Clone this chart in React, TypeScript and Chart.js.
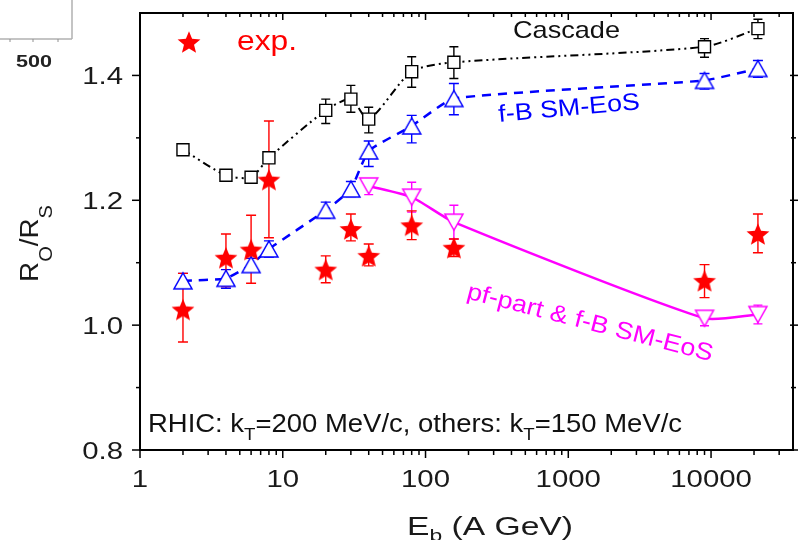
import React, { useEffect, useRef } from 'react';
import { Chart, registerables } from 'chart.js';

Chart.register(...registerables);

// ---------------- data ----------------
const energies = [2, 4, 6, 8, 20, 30, 40, 80, 158, 9000, 21300];

const expRatio = [1.025, 1.108, 1.121, 1.233, 1.089, 1.154, 1.111, 1.160, 1.124, 1.071, 1.146];
const expErrPlus = [0.058, 0.038, 0.055, 0.094, 0.022, 0.024, 0.019, 0.023, 0.014, 0.026, 0.032];
const expErrMinus = [0.052, 0.046, 0.054, 0.093, 0.021, 0.019, 0.016, 0.023, 0.014, 0.027, 0.030];

const cascadeRatio = [1.281, 1.240, 1.237, 1.268, 1.344, 1.362, 1.330, 1.406, 1.421, 1.446, 1.475];
const cascadeErrPlus = [0.005, 0.005, 0.005, 0.006, 0.018, 0.022, 0.019, 0.024, 0.025, 0.013, 0.015];
const cascadeErrMinus = [0.005, 0.005, 0.005, 0.006, 0.021, 0.021, 0.022, 0.025, 0.026, 0.017, 0.016];

const fbRatio = [1.071, 1.075, 1.097, 1.122, 1.184, 1.218, 1.279, 1.319, 1.363, 1.392, 1.411];
const fbErrPlus = [0.012, 0.014, 0.010, 0.013, 0.013, 0.012, 0.016, 0.017, 0.024, 0.011, 0.013];
const fbErrMinus = [0.010, 0.016, 0.010, 0.013, 0.013, 0.012, 0.025, 0.027, 0.026, 0.014, 0.014];

const pfEnergies = [40, 80, 158, 9000, 21300];
const pfRatio = [1.223, 1.205, 1.165, 1.011, 1.017];
const pfErrPlus = [0.010, 0.024, 0.027, 0.008, 0.015];
const pfErrMinus = [0.014, 0.024, 0.027, 0.012, 0.015];

const xTicks = [1, 10, 100, 1000, 10000];
const yTicks = [0.8, 1.0, 1.2, 1.4];
const yMinorTicks = [0.9, 1.1, 1.3];

const X_MIN = 1;
const X_MAX = 37500;
const Y_MIN = 0.8;
const Y_MAX = 1.5;

// ---------------- styling helpers ----------------
const FAM = "'Liberation Sans', Arial, Helvetica, sans-serif";
const RED = '#ff0000';
const BLUE = '#0000ff';
const MAGENTA = '#ff00ff';

type Seg = { t: string; size: number; dy?: number; bold?: boolean };

function drawRich(
  ctx: CanvasRenderingContext2D,
  segs: Seg[],
  o: { x: number; y: number; width?: number; sx?: number; color: string; angle?: number; align?: 'left' | 'center' | 'right'; base?: number }
) {
  ctx.save();
  let nat = 0;
  for (const s of segs) {
    ctx.font = `${s.bold ? 'bold ' : ''}${s.size}px ${FAM}`;
    nat += ctx.measureText(s.t).width;
  }
  const sx = o.width ? o.width / nat : o.sx ?? 1;
  ctx.translate(o.x, o.y);
  if (o.angle) ctx.rotate(o.angle);
  ctx.scale(sx, 1);
  let cx = o.align === 'center' ? -nat / 2 : o.align === 'right' ? -nat : 0;
  ctx.fillStyle = o.color;
  ctx.textAlign = 'left';
  ctx.textBaseline = 'alphabetic';
  for (const s of segs) {
    ctx.font = `${s.bold ? 'bold ' : ''}${s.size}px ${FAM}`;
    ctx.fillText(s.t, cx, (s.dy ?? 0) + (o.base ?? 0));
    cx += ctx.measureText(s.t).width;
  }
  ctx.restore();
}

function makeStar(color: string, R: number) {
  const c = document.createElement('canvas');
  const s = Math.ceil(R * 2 + 2);
  c.width = s;
  c.height = s;
  const g = c.getContext('2d')!;
  g.fillStyle = color;
  const cx = s / 2;
  const cy = s / 2 + R * 0.0955;
  g.beginPath();
  for (let i = 0; i < 10; i++) {
    const r = i % 2 ? R * 0.44 : R;
    const a = -Math.PI / 2 + (i * Math.PI) / 5;
    const px = cx + r * Math.cos(a);
    const py = cy + r * Math.sin(a);
    if (i === 0) g.moveTo(px, py);
    else g.lineTo(px, py);
  }
  g.closePath();
  g.fill();
  return c;
}

function makeTri(color: string, up: boolean) {
  const w = 18;
  const h = 16;
  const p = 2;
  const c = document.createElement('canvas');
  c.width = w + 2 * p;
  c.height = h + 2 * p;
  const g = c.getContext('2d')!;
  g.lineWidth = 1.5;
  g.strokeStyle = color;
  g.fillStyle = '#ffffff';
  g.beginPath();
  if (up) {
    g.moveTo(p + w / 2, p);
    g.lineTo(p + w, p + h);
    g.lineTo(p, p + h);
  } else {
    g.moveTo(p, p);
    g.lineTo(p + w, p);
    g.lineTo(p + w / 2, p + h);
  }
  g.closePath();
  g.fill();
  g.stroke();
  return c;
}

type ErrSeries = { xs: number[]; ys: number[]; plus: number[]; minus: number[]; color: string; cap: number; lw: number };

const errSeries: ErrSeries[] = [
  { xs: energies, ys: cascadeRatio, plus: cascadeErrPlus, minus: cascadeErrMinus, color: '#000000', cap: 4.5, lw: 1.4 },
  { xs: energies, ys: fbRatio, plus: fbErrPlus, minus: fbErrMinus, color: BLUE, cap: 5, lw: 1.4 },
  { xs: pfEnergies, ys: pfRatio, plus: pfErrPlus, minus: pfErrMinus, color: MAGENTA, cap: 4.5, lw: 1.4 },
  { xs: energies, ys: expRatio, plus: expErrPlus, minus: expErrMinus, color: RED, cap: 5, lw: 1.4 },
];

export default function App() {
  const ref = useRef<HTMLCanvasElement>(null);

  useEffect(() => {
    const canvas = ref.current!;
    const starImg = makeStar(RED, 12);
    const upBlue = makeTri(BLUE, true);
    const downMag = makeTri(MAGENTA, false);

    const deco = {
      id: 'deco',
      beforeDatasetsDraw(chart: any) {
        const ctx: CanvasRenderingContext2D = chart.ctx;
        const xs = chart.scales.x;
        const ys = chart.scales.y;
        ctx.save();
        for (const s of errSeries) {
          ctx.strokeStyle = s.color;
          ctx.lineWidth = s.lw;
          s.xs.forEach((xv, i) => {
            const px = xs.getPixelForValue(xv);
            const pTop = ys.getPixelForValue(s.ys[i] + s.plus[i]);
            const pBot = ys.getPixelForValue(s.ys[i] - s.minus[i]);
            ctx.beginPath();
            ctx.moveTo(px, pTop);
            ctx.lineTo(px, pBot);
            ctx.moveTo(px - s.cap, pTop);
            ctx.lineTo(px + s.cap, pTop);
            ctx.moveTo(px - s.cap, pBot);
            ctx.lineTo(px + s.cap, pBot);
            ctx.stroke();
          });
        }
        ctx.restore();
      },
      afterDraw(chart: any) {
        const ctx: CanvasRenderingContext2D = chart.ctx;
        const { left, right, top, bottom } = chart.chartArea;
        const xs = chart.scales.x;
        const ys = chart.scales.y;
        const line = (x1: number, y1: number, x2: number, y2: number) => {
          ctx.beginPath();
          ctx.moveTo(x1, y1);
          ctx.lineTo(x2, y2);
          ctx.stroke();
        };
        ctx.save();
        // frame
        ctx.strokeStyle = '#000';
        ctx.lineWidth = 2;
        ctx.strokeRect(left, top, right - left, bottom - top);
        // x ticks
        ctx.lineWidth = 1.5;
        for (const d of xTicks) {
          const px = xs.getPixelForValue(d);
          line(px, bottom, px, bottom + 8);
          line(px, top, px, top + 7);
          for (let m = 2; m <= 9; m++) {
            const v = d * m;
            if (v > X_MAX) break;
            const p = xs.getPixelForValue(v);
            line(p, bottom, p, bottom + 5);
            line(p, top, p, top + 4);
          }
        }
        // y ticks
        for (const v of yTicks) {
          const py = ys.getPixelForValue(v);
          line(left - 8, py, left, py);
          line(right - 3, py, right + 5, py);
        }
        for (const v of yMinorTicks) {
          const py = ys.getPixelForValue(v);
          line(left - 4, py, left, py);
          line(right - 2, py, right + 3, py);
        }
        // tick labels
        for (const d of xTicks) {
          const px = xs.getPixelForValue(d);
          drawRich(ctx, [{ t: String(d), size: 23.5 }], { x: px, y: 487, sx: 1.25, color: '#1a1a1a', align: 'center' });
        }
        for (const v of yTicks) {
          const py = ys.getPixelForValue(v);
          drawRich(ctx, [{ t: v.toFixed(1), size: 23.5 }], { x: 123, y: py + 8.5, sx: 1.25, color: '#1a1a1a', align: 'right' });
        }
        // axis titles
        drawRich(
          ctx,
          [
            { t: 'E', size: 25 },
            { t: 'b', size: 17, dy: 6 },
            { t: ' (A GeV)', size: 25 },
          ],
          { x: 407, y: 535, width: 166, color: '#1a1a1a' }
        );
        drawRich(
          ctx,
          [
            { t: 'R', size: 25 },
            { t: 'O', size: 18, dy: 14 },
            { t: '/R', size: 25 },
            { t: 'S', size: 18, dy: 14 },
          ],
          { x: 38, y: 243.5, width: 77, color: '#1a1a1a', angle: -Math.PI / 2, align: 'center' }
        );
        // note
        drawRich(
          ctx,
          [
            { t: 'RHIC: k', size: 25 },
            { t: 'T', size: 17, dy: 8 },
            { t: '=200 MeV/c, others: k', size: 25 },
            { t: 'T', size: 17, dy: 8 },
            { t: '=150 MeV/c', size: 25 },
          ],
          { x: 148, y: 432, width: 534, color: '#111' }
        );
        // curve labels
        drawRich(ctx, [{ t: 'Cascade', size: 24 }], { x: 513, y: 38, width: 107, color: '#111' });
        drawRich(ctx, [{ t: 'f-B SM-EoS', size: 24 }], {
          x: 569, y: 107, width: 142, color: BLUE, angle: (-5.2 * Math.PI) / 180, align: 'center', base: 8.5,
        });
        drawRich(ctx, [{ t: 'pf-part & f-B SM-EoS', size: 24 }], {
          x: 590.5, y: 321.5, width: 253, color: MAGENTA, angle: (14.4 * Math.PI) / 180, align: 'center', base: 8.5,
        });
        // legend
        ctx.drawImage(starImg, 189 - starImg.width / 2, 42 - starImg.height / 2);
        drawRich(ctx, [{ t: 'exp.', size: 27 }], { x: 237, y: 50, width: 60, color: RED });
        // fragment of a neighbouring figure (top-left corner)
        ctx.strokeStyle = '#b0b0b0';
        ctx.lineWidth = 1.5;
        line(72, 0, 72, 39);
        line(0, 39, 72, 39);
        ctx.strokeStyle = '#909090';
        ctx.lineWidth = 1;
        for (const tx of [10, 33, 58]) line(tx, 39, tx, 42);
        drawRich(ctx, [{ t: '500', size: 17, bold: true }], { x: 16, y: 67, width: 36, color: '#222' });
        ctx.restore();
      },
    };

    const chart = new Chart(canvas, {
      type: 'line',
      data: {
        datasets: [
          {
            label: 'exp.',
            data: energies.map((x, i) => ({ x, y: expRatio[i] })),
            showLine: false,
            pointStyle: starImg as any,
            pointRadius: 12,
          },
          {
            label: 'pf-part & f-B SM-EoS',
            data: pfEnergies.map((x, i) => ({ x, y: pfRatio[i] })),
            borderColor: MAGENTA,
            borderWidth: 2.5,
            tension: 0.2,
            pointStyle: downMag as any,
            pointRadius: 10,
          },
          {
            label: 'f-B SM-EoS',
            data: energies.map((x, i) => ({ x, y: fbRatio[i] })),
            borderColor: BLUE,
            borderWidth: 2.5,
            borderDash: [9, 7],
            tension: 0.15,
            pointStyle: upBlue as any,
            pointRadius: 10,
          },
          {
            label: 'Cascade',
            data: energies.map((x, i) => ({ x, y: cascadeRatio[i] })),
            borderColor: '#000000',
            borderWidth: 2,
            borderDash: [8, 4, 2, 4, 2, 4],
            tension: 0.25,
            pointStyle: 'rect',
            pointRadius: 8.5,
            pointBorderColor: '#000000',
            pointBackgroundColor: '#ffffff',
            pointBorderWidth: 1.4,
          },
        ],
      },
      options: {
        responsive: false,
        animation: false,
        devicePixelRatio: 1,
        layout: { padding: { left: 0, right: 5, top: 9, bottom: 0 } },
        plugins: { legend: { display: false }, tooltip: { enabled: false } },
        scales: {
          x: {
            type: 'logarithmic',
            min: X_MIN,
            max: X_MAX,
            grid: { display: false },
            border: { display: false },
            ticks: { display: false },
            afterFit: (s: any) => {
              s.height = 90;
            },
          },
          y: {
            type: 'linear',
            min: Y_MIN,
            max: Y_MAX,
            grid: { display: false },
            border: { display: false },
            ticks: { display: false },
            afterFit: (s: any) => {
              s.width = 140;
            },
          },
        },
      },
      plugins: [deco],
    });
    return () => chart.destroy();
  }, []);

  return (
    <div style={{ position: 'fixed', left: 0, top: 0, width: 806, height: 540, background: '#ffffff' }}>
      <canvas ref={ref} width={806} height={540} style={{ display: 'block', width: 806, height: 540 }} />
    </div>
  );
}
